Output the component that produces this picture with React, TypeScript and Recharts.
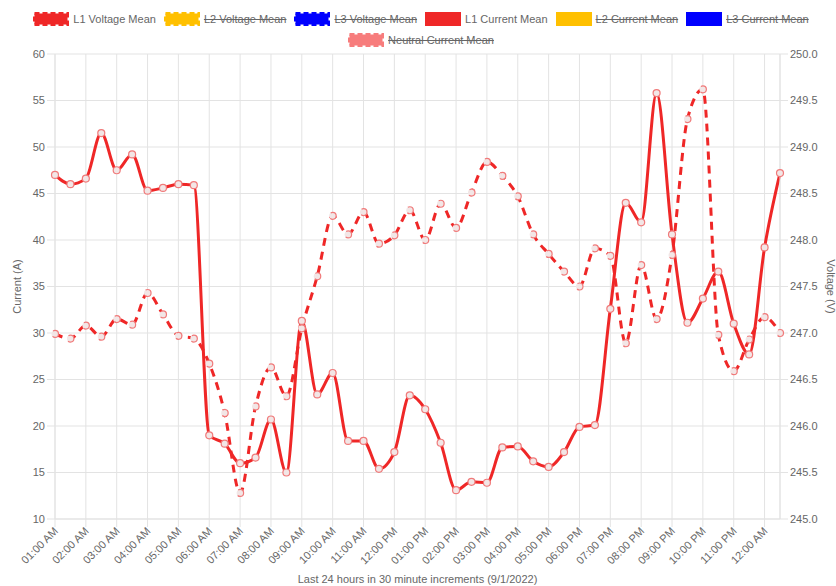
import React from 'react';
import { LineChart, Line, XAxis, YAxis, CartesianGrid, Legend } from 'recharts';

// half-hour buckets, 01:00 AM through 12:30 AM
const timeLabels = [
    '01:00 AM', '01:30 AM', '02:00 AM', '02:30 AM', '03:00 AM', '03:30 AM',
    '04:00 AM', '04:30 AM', '05:00 AM', '05:30 AM', '06:00 AM', '06:30 AM',
    '07:00 AM', '07:30 AM', '08:00 AM', '08:30 AM', '09:00 AM', '09:30 AM',
    '10:00 AM', '10:30 AM', '11:00 AM', '11:30 AM', '12:00 PM', '12:30 PM',
    '01:00 PM', '01:30 PM', '02:00 PM', '02:30 PM', '03:00 PM', '03:30 PM',
    '04:00 PM', '04:30 PM', '05:00 PM', '05:30 PM', '06:00 PM', '06:30 PM',
    '07:00 PM', '07:30 PM', '08:00 PM', '08:30 PM', '09:00 PM', '09:30 PM',
    '10:00 PM', '10:30 PM', '11:00 PM', '11:30 PM', '12:00 AM', '12:30 AM',
];

const l1CurrentMean = [
    47.0, 46.0, 46.6, 51.5, 47.5, 49.2, 45.3, 45.6, 46.0, 45.9,
    19.0, 18.1, 16.0, 16.6, 20.7, 15.0, 31.3, 23.4, 25.7, 18.4,
    18.4, 15.4, 17.2, 23.3, 21.8, 18.2, 13.1, 14.0, 13.9, 17.7,
    17.8, 16.2, 15.6, 17.2, 19.9, 20.1, 32.6, 44.0, 41.9, 55.8,
    40.6, 31.1, 33.7, 36.6, 31.0, 27.7, 39.2, 47.2,
];

const l1VoltageMean = [
    246.99, 246.94, 247.08, 246.96, 247.15, 247.09, 247.43, 247.2, 246.97, 246.94,
    246.67, 246.14, 245.28, 246.21, 246.63, 246.32, 247.05, 247.61, 248.26, 248.06,
    248.3, 247.96, 248.05, 248.32, 248.0, 248.39, 248.13, 248.51, 248.84, 248.69,
    248.47, 248.06, 247.85, 247.66, 247.5, 247.91, 247.83, 246.89, 247.73, 247.15,
    247.84, 249.3, 249.62, 246.98, 246.59, 246.93, 247.17, 247.0,
];

const currentTicks = [10, 15, 20, 25, 30, 35, 40, 45, 50, 55, 60];
const voltageTicks = [245, 245.5, 246, 246.5, 247, 247.5, 248, 248.5, 249, 249.5, 250];

const legendItems = [
    { name: 'L1 Voltage Mean', color: '#ef2727', dashed: true, hidden: false },
    { name: 'L2 Voltage Mean', color: '#ffc000', dashed: true, hidden: true },
    { name: 'L3 Voltage Mean', color: '#0000ff', dashed: true, hidden: true },
    { name: 'L1 Current Mean', color: '#ef2727', dashed: false, hidden: false },
    { name: 'L2 Current Mean', color: '#ffc000', dashed: false, hidden: true },
    { name: 'L3 Current Mean', color: '#0000ff', dashed: false, hidden: true },
    { name: 'Neutral Current Mean', color: '#f77c7c', dashed: true, hidden: true },
];

const data = timeLabels.map((label, idx) => ({
    idx,
    label,
    current: l1CurrentMean[idx],
    voltage: l1VoltageMean[idx],
}));

// only the full hours get a label + grid line
const hourTicks = timeLabels.map((l, i) => (l.includes(':00') ? i : -1)).filter((i) => i >= 0);

const FONT = '"Liberation Sans", Arial, Helvetica, sans-serif';
const TEXT = '#666';
const GRID = '#e3e3e3';
const RED = '#ef2727';

const TimeTick = ({ x, y, payload }: any) => (
    <text
        x={x + 1}
        y={y}
        dy="0.35em"
        transform={`rotate(-45, ${x + 1}, ${y})`}
        textAnchor="end"
        fill={TEXT}
        fontSize={11}
        fontFamily={FONT}
    >
        {timeLabels[payload.value]}
    </text>
);

const LegendRow = ({ items }: { items: typeof legendItems }) => (
    <div style={{ display: 'flex', justifyContent: 'center', alignItems: 'center', height: 21 }}>
        {items.map((item) => (
            <div key={item.name} style={{ display: 'flex', alignItems: 'center', marginRight: 8 }}>
                <svg width={36} height={14} style={{ marginRight: 4 }}>
                    <rect
                        x={1.5}
                        y={1.5}
                        width={33}
                        height={11}
                        fill={item.color}
                        stroke={item.color}
                        strokeWidth={3}
                        strokeDasharray={item.dashed ? '5 3' : undefined}
                    />
                </svg>
                <span
                    style={{
                        fontSize: 11,
                        color: TEXT,
                        textDecoration: item.hidden ? 'line-through' : 'none',
                        whiteSpace: 'nowrap',
                    }}
                >
                    {item.name}
                </span>
            </div>
        ))}
    </div>
);

const ChartLegend = () => (
    <div style={{ height: 46, paddingLeft: 14, fontFamily: FONT }}>
        <LegendRow items={legendItems.slice(0, 6)} />
        <LegendRow items={legendItems.slice(6)} />
    </div>
);

const dotStyle = { r: 3.5, fill: '#f2e6e6', stroke: '#f07a7a', strokeWidth: 1.2 };

export default function App() {
    return (
        <div style={{ position: 'absolute', left: 0, top: 0, background: '#fff' }}>
            <LineChart width={836} height={586} data={data} margin={{ top: 8, right: 0, bottom: 0, left: 0 }}>
                <Legend verticalAlign="top" content={() => <ChartLegend />} />
                <CartesianGrid stroke={GRID} yAxisId="current" />
                <XAxis
                    dataKey="idx"
                    type="number"
                    domain={[0, timeLabels.length - 1]}
                    ticks={hourTicks}
                    interval={0}
                    height={67}
                    tickSize={8}
                    tickMargin={2}
                    stroke={GRID}
                    tick={<TimeTick />}
                    label={{
                        value: 'Last 24 hours in 30 minute increments (9/1/2022)',
                        position: 'insideBottom',
                        offset: 3,
                        fill: TEXT,
                        fontSize: 11,
                        fontFamily: FONT,
                    }}
                />
                <YAxis
                    yAxisId="current"
                    domain={[10, 60]}
                    ticks={currentTicks}
                    width={55}
                    tickSize={8}
                    tickMargin={2}
                    stroke={GRID}
                    tick={{ fill: TEXT, fontSize: 11, fontFamily: FONT }}
                    label={{
                        value: 'Current (A)',
                        angle: -90,
                        position: 'insideLeft',
                        offset: 17,
                        fill: TEXT,
                        fontSize: 11,
                        fontFamily: FONT,
                        style: { textAnchor: 'middle' },
                    }}
                />
                <YAxis
                    yAxisId="voltage"
                    orientation="right"
                    domain={[245, 250]}
                    ticks={voltageTicks}
                    width={56}
                    tickSize={8}
                    tickMargin={2}
                    stroke={GRID}
                    tickFormatter={(v: number) => v.toFixed(1)}
                    tick={{ fill: TEXT, fontSize: 11, fontFamily: FONT }}
                    label={{
                        value: 'Voltage (V)',
                        angle: 90,
                        position: 'insideRight',
                        offset: 5,
                        fill: TEXT,
                        fontSize: 11,
                        fontFamily: FONT,
                        style: { textAnchor: 'middle' },
                    }}
                />
                <Line
                    yAxisId="current"
                    dataKey="current"
                    type="monotone"
                    stroke={RED}
                    strokeWidth={3}
                    dot={dotStyle}
                    activeDot={false}
                    isAnimationActive={false}
                />
                <Line
                    yAxisId="voltage"
                    dataKey="voltage"
                    type="monotone"
                    stroke={RED}
                    strokeWidth={3}
                    strokeDasharray="8 6"
                    dot={dotStyle}
                    activeDot={false}
                    isAnimationActive={false}
                />
            </LineChart>
        </div>
    );
}
